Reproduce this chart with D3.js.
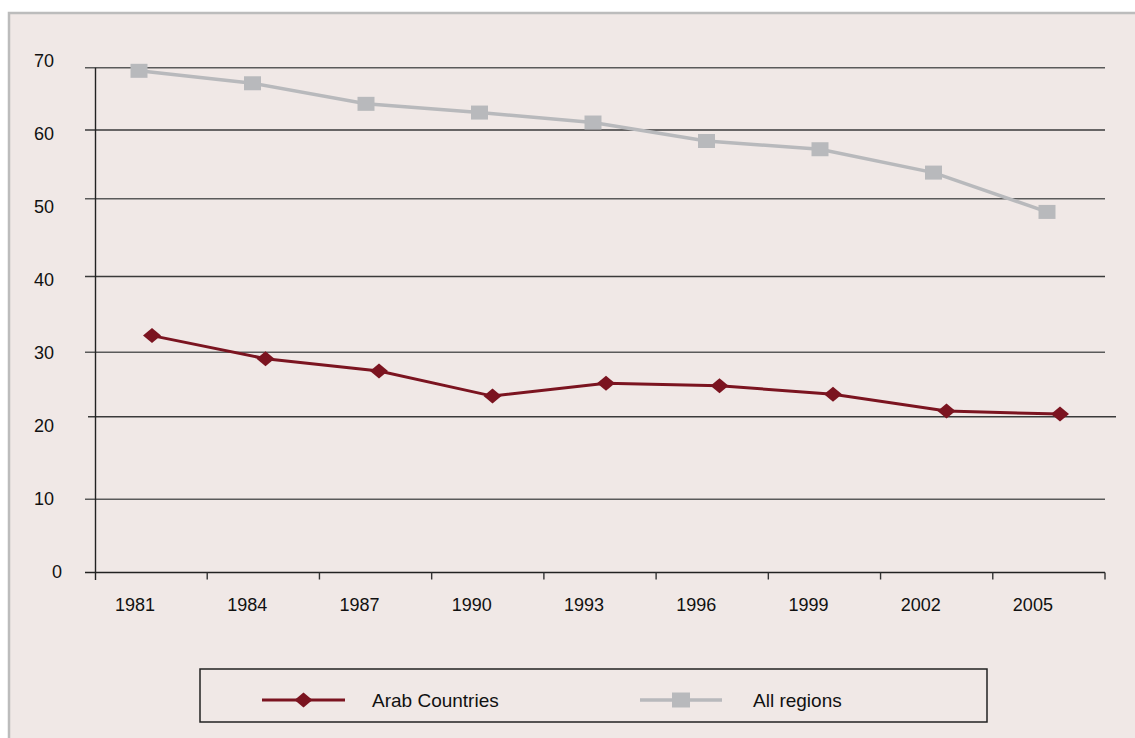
<!DOCTYPE html>
<html>
<head>
<meta charset="utf-8">
<script src="https://cdn.jsdelivr.net/npm/d3@7/dist/d3.min.js"></script>
<style>
  html, body { margin: 0; padding: 0; background: #ffffff; }
  svg { display: block; }
  text { font-family: "Liberation Sans", Arial, sans-serif; fill: #111; }
</style>
</head>
<body>
<svg id="chart" width="1135" height="738"></svg>
<script>
// Survey years on the category axis
const years = ["1981", "1984", "1987", "1990", "1993", "1996", "1999", "2002", "2005"];

// Share of population (%) for each series
const arabCountries = [32.2, 29.0, 27.1, 23.2, 25.2, 24.8, 23.5, 20.9, 20.4];
const allRegions    = [69.5, 67.5, 64.2, 62.8, 61.2, 58.4, 57.2, 53.8, 48.3];

// Value axis tick labels
const yTicks = [0, 10, 20, 30, 40, 50, 60, 70];

const seriesNames = ["Arab Countries", "All regions"];

const svg = d3.select("#chart");
const W = 1135, H = 738;

// Panel background and frame
svg.append("rect")
  .attr("x", 9).attr("y", 13)
  .attr("width", W + 10).attr("height", H + 10)
  .attr("fill", "#f0e8e6")
  .attr("stroke", "#bcbcbc")
  .attr("stroke-width", 2.5);

// Scales: the value axis follows the panel's own gridline spacing
const y = d3.scaleLinear()
  .domain(yTicks)
  .range([572.5, 499.3, 416.7, 352.3, 276.5, 198.7, 130, 67.7]);
const yLabel = d3.scaleLinear().domain([0, 70]).range([572, 61]);

const xBand = d3.scaleBand().domain(years).range([95, 1105]).paddingInner(0).paddingOuter(0);
const x = d3.scalePoint().domain(years).range([152, 1060]);

const plotLeft = 95.5, plotRight = 1105;

// Horizontal gridlines (extend left of the axis as tick marks)
const grid = svg.append("g");
grid.selectAll("line")
  .data(yTicks.filter(d => d > 0))
  .join("line")
  .attr("x1", d => d === 20 ? 88 : 85)
  .attr("x2", d => d === 20 ? 1116 : plotRight)
  .attr("y1", d => y(d)).attr("y2", d => y(d))
  .attr("stroke", (d, i) => i % 2 ? "#3a3a3a" : "#5a5a5a")
  .attr("stroke-width", 1.4);

// Y-axis labels
svg.append("g").selectAll("text")
  .data(yTicks)
  .join("text")
  .attr("x", d => d === 0 ? 62 : 54)
  .attr("y", d => yLabel(d))
  .attr("dy", "0.35em")
  .attr("text-anchor", "end")
  .attr("font-size", 18)
  .text(d => d);

// Axes lines
svg.append("line")
  .attr("x1", plotLeft).attr("x2", plotLeft)
  .attr("y1", y(70)).attr("y2", 580)
  .attr("stroke", "#222").attr("stroke-width", 1.4);
svg.append("line")
  .attr("x1", 85).attr("x2", plotRight)
  .attr("y1", y(0)).attr("y2", y(0))
  .attr("stroke", "#222").attr("stroke-width", 1.4);

// Category tick marks at band boundaries
const edges = years.map(d => xBand(d)).concat([xBand(years[years.length - 1]) + xBand.bandwidth()]);
svg.append("g").selectAll("line")
  .data(edges.slice(1))
  .join("line")
  .attr("x1", d => d).attr("x2", d => d)
  .attr("y1", y(0)).attr("y2", y(0) + 7)
  .attr("stroke", "#333").attr("stroke-width", 1.4);

// Category labels
svg.append("g").selectAll("text")
  .data(years)
  .join("text")
  .attr("x", d => xBand(d) + xBand.bandwidth() / 2 - 16)
  .attr("y", 605)
  .attr("dy", "0.35em")
  .attr("text-anchor", "middle")
  .attr("font-size", 18)
  .text(d => d);

const arabColor = "#7b1420";
const allColor = "#b8b9bc";

// All regions series: grey line with square markers
const allDx = -13;
const allPts = years.map((yr, i) => [x(yr) + allDx, y(allRegions[i])]);
svg.append("path")
  .attr("d", d3.line()(allPts))
  .attr("fill", "none")
  .attr("stroke", allColor)
  .attr("stroke-width", 3.5);
svg.append("g").selectAll("rect")
  .data(allPts)
  .join("rect")
  .attr("x", d => d[0] - 8.5).attr("y", d => d[1] - 7)
  .attr("width", 17).attr("height", 14)
  .attr("fill", allColor);

// Arab Countries series: dark red line with diamond markers
const arabPts = years.map((yr, i) => [x(yr), y(arabCountries[i])]);
svg.append("path")
  .attr("d", d3.line()(arabPts))
  .attr("fill", "none")
  .attr("stroke", arabColor)
  .attr("stroke-width", 3);
const diamond = (cx, cy) => `M${cx - 9},${cy}L${cx},${cy - 7.5}L${cx + 9},${cy}L${cx},${cy + 7.5}Z`;
svg.append("g").selectAll("path")
  .data(arabPts)
  .join("path")
  .attr("d", d => diamond(d[0], d[1]))
  .attr("fill", arabColor);

// Legend
const legend = svg.append("g");
legend.append("rect")
  .attr("x", 200).attr("y", 669)
  .attr("width", 787).attr("height", 53)
  .attr("fill", "none")
  .attr("stroke", "#222").attr("stroke-width", 1.5);

const legendItems = [
  { name: seriesNames[0], x0: 262, x1: 345, tx: 372, color: arabColor, marker: "diamond", w: 3 },
  { name: seriesNames[1], x0: 640, x1: 722, tx: 753, color: allColor, marker: "square", w: 3.5 }
];
const ly = 700;
legendItems.forEach(it => {
  legend.append("line")
    .attr("x1", it.x0).attr("x2", it.x1)
    .attr("y1", ly).attr("y2", ly)
    .attr("stroke", it.color).attr("stroke-width", it.w);
  const cx = (it.x0 + it.x1) / 2;
  if (it.marker === "diamond") {
    legend.append("path").attr("d", diamond(cx, ly)).attr("fill", it.color);
  } else {
    legend.append("rect")
      .attr("x", cx - 9).attr("y", ly - 7.5)
      .attr("width", 18).attr("height", 15)
      .attr("fill", it.color);
  }
  legend.append("text")
    .attr("x", it.tx).attr("y", ly)
    .attr("dy", "0.35em")
    .attr("font-size", 19)
    .text(it.name);
});
</script>
</body>
</html>
